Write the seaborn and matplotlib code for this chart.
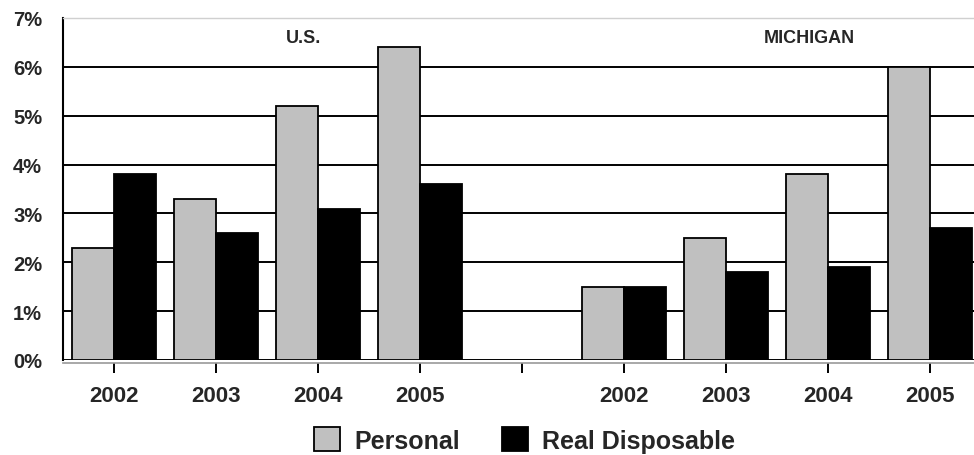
import matplotlib
matplotlib.use("Agg")
import matplotlib.pyplot as plt
from matplotlib.patches import Patch
import seaborn as sns
import pandas as pd

# Income growth by year, U.S. then Michigan, with an empty slot between the groups
slots = ["US2002", "US2003", "US2004", "US2005", "gap",
         "MI2002", "MI2003", "MI2004", "MI2005"]
slot_labels = ["2002", "2003", "2004", "2005", "",
               "2002", "2003", "2004", "2005"]
series = ["Personal", "Real Disposable"]
personal = [2.3, 3.3, 5.2, 6.4, None, 1.5, 2.5, 3.8, 6.0]
real_disposable = [3.8, 2.6, 3.1, 3.6, None, 1.5, 1.8, 1.9, 2.7]
y_ticks = [0, 1, 2, 3, 4, 5, 6, 7]
group_titles = ["U.S.", "MICHIGAN"]

rows = []
for slot, p, r in zip(slots, personal, real_disposable):
    rows.append({"slot": slot, "series": series[0], "value": p})
    rows.append({"slot": slot, "series": series[1], "value": r})
df = pd.DataFrame(rows)

sns.set_theme(style="white")
plt.rcParams["font.family"] = ["Liberation Sans", "DejaVu Sans"]
plt.rcParams["font.weight"] = "bold"

fig = plt.figure(figsize=(9.74, 4.56), dpi=100)
ax = fig.add_axes([63 / 974, 1 - 361 / 456, 1 - 63 / 974 + 0.007, (361 - 19) / 456])

palette = {series[0]: "#c0c0c0", series[1]: "#000000"}
sns.barplot(data=df, x="slot", y="value", hue="series", order=slots,
            hue_order=series, palette=palette, width=0.82, gap=0,
            edgecolor="black", linewidth=1.3, saturation=1,
            legend=False, ax=ax)

ax.set_ylim(y_ticks[0], y_ticks[-1])
ax.set_xlim(-0.5, len(slots) - 0.5)
ax.set_yticks(y_ticks)
ax.set_yticklabels([f"{t}%" for t in y_ticks])
ax.set_xticks(range(len(slots)))
ax.set_xticklabels(slot_labels)
ax.set_xlabel("")
ax.set_ylabel("")

ax.set_axisbelow(True)
ax.yaxis.grid(True, color="black", linewidth=1.4)
ax.yaxis.get_gridlines()[-1].set_visible(False)

ax.tick_params(axis="y", direction="out", length=6, width=1.4, color="black",
               pad=9, labelsize=14.5)
ax.tick_params(axis="x", direction="out", length=7, width=1.4, color="black",
               pad=9, labelsize=16, bottom=True)
for lab in ax.get_xticklabels() + ax.get_yticklabels():
    lab.set_fontweight("bold")

ax.spines["left"].set_color("black")
ax.spines["left"].set_linewidth(1.5)
ax.spines["right"].set_visible(False)
ax.spines["top"].set_color("#d0d0d0")
ax.spines["top"].set_linewidth(1)
ax.spines["bottom"].set_color("#999999")
ax.spines["bottom"].set_linewidth(1.2)
ax.spines["bottom"].set_position(("outward", 2))

ax.text(1.86, 6.6, group_titles[0], ha="center", va="center",
        fontsize=13, fontweight="bold")
ax.text(6.82, 6.6, group_titles[1], ha="center", va="center",
        fontsize=13, fontweight="bold")

handles = [Patch(facecolor=palette[s], edgecolor="black", linewidth=1.3)
           for s in series]
fig.legend(handles, series, loc="center", bbox_to_anchor=(0.5385, 1 - 441 / 456),
           ncol=2, frameon=False, prop={"size": 18, "weight": "bold"},
           handlelength=1.05, handleheight=1.05, handletextpad=0.55,
           columnspacing=1.7, borderpad=0.1)

fig.savefig("out.png", dpi=100)
